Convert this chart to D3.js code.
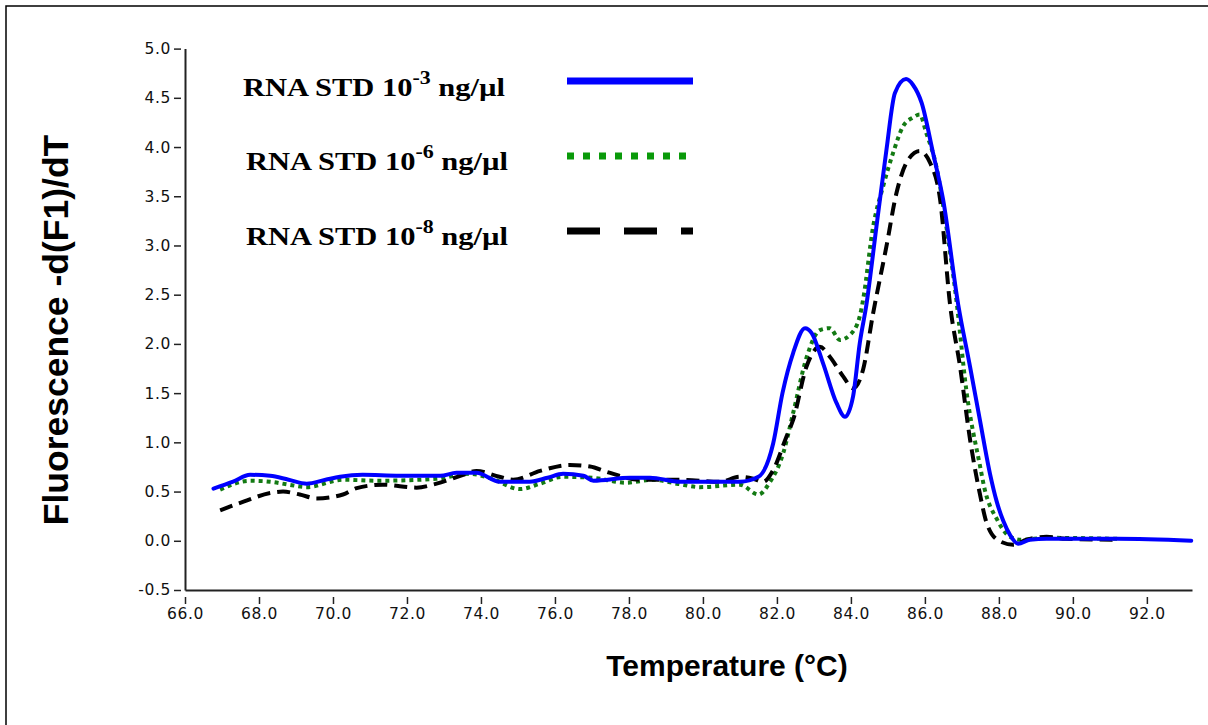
<!DOCTYPE html>
<html>
<head>
<meta charset="utf-8">
<script src="https://cdn.jsdelivr.net/npm/d3@7"></script>
<style>
  body { margin: 0; background: #fff; }
  svg { display: block; }
</style>
</head>
<body>
<div id="chart"></div>
<script>
// Melt curves: temperature (°C) and -d(F1)/dT
const blueT = [66.77, 67.3, 67.76, 68.3, 68.8, 69.29, 69.8, 70.19, 70.8, 71.8, 72.9, 73.34, 73.88, 74.5, 74.87, 75.32, 75.8, 76.22, 76.77, 77.04, 78.03, 78.57, 79.38, 80.8, 81.0, 81.5, 81.9, 82.15, 82.44, 82.76, 82.94, 83.25, 83.61, 83.84, 84.06, 84.24, 84.42, 84.69, 84.96, 85.19, 85.49, 85.68, 85.91, 86.22, 86.49, 86.9, 87.22, 87.49, 87.76, 87.94, 88.12, 88.3, 88.52, 88.84, 89.29, 91.2, 93.2];
const blueY = [0.53, 0.60, 0.67, 0.66, 0.62, 0.58, 0.62, 0.65, 0.67, 0.66, 0.66, 0.69, 0.69, 0.60, 0.60, 0.60, 0.64, 0.68, 0.66, 0.61, 0.64, 0.64, 0.60, 0.60, 0.60, 0.65, 0.99, 1.50, 1.91, 2.16, 2.11, 1.80, 1.40, 1.26, 1.47, 2.01, 2.40, 3.19, 3.97, 4.55, 4.69, 4.63, 4.45, 3.94, 3.47, 2.40, 1.77, 1.22, 0.68, 0.40, 0.20, 0.06, -0.03, 0.01, 0.02, 0.02, 0.0];

const greenT = [66.95, 67.76, 68.3, 68.8, 69.29, 70.27, 71.2, 72.8, 73.7, 74.3, 75.05, 75.6, 76.2, 77.0, 77.93, 78.65, 79.3, 79.92, 81.0, 81.5, 81.8, 82.17, 82.44, 82.8, 83.16, 83.43, 83.7, 83.97, 84.24, 84.33, 84.6, 84.87, 85.14, 85.41, 85.68, 85.86, 86.04, 86.31, 86.58, 86.85, 87.12, 87.49, 87.6, 87.96, 88.3, 88.6, 89.3, 91.2];
const greenY = [0.52, 0.61, 0.60, 0.57, 0.545, 0.62, 0.61, 0.63, 0.68, 0.63, 0.525, 0.58, 0.65, 0.64, 0.59, 0.62, 0.58, 0.545, 0.57, 0.47, 0.59, 0.89, 1.30, 1.86, 2.14, 2.16, 2.04, 2.09, 2.28, 2.45, 3.19, 3.60, 3.94, 4.21, 4.30, 4.33, 4.14, 3.80, 3.19, 2.45, 1.53, 0.76, 0.55, 0.21, 0.04, 0.01, 0.03, 0.02];

const blackT = [66.95, 67.6, 68.3, 68.65, 69.1, 69.56, 70.27, 70.64, 71.35, 72.26, 72.8, 73.52, 73.88, 74.5, 74.87, 75.6, 76.4, 76.95, 77.4, 78.3, 79.38, 80.46, 81.0, 81.36, 81.63, 81.9, 82.26, 82.44, 82.8, 83.16, 83.43, 83.79, 84.06, 84.33, 84.6, 84.96, 85.23, 85.5, 85.86, 86.14, 86.41, 86.68, 86.95, 87.22, 87.49, 87.67, 88.0, 88.39, 88.75, 89.29, 89.8, 91.2];
const blackY = [0.31, 0.40, 0.485, 0.50, 0.47, 0.43, 0.47, 0.535, 0.57, 0.54, 0.58, 0.67, 0.71, 0.65, 0.62, 0.71, 0.77, 0.755, 0.70, 0.62, 0.62, 0.60, 0.65, 0.63, 0.60, 0.72, 1.06, 1.23, 1.77, 1.97, 1.87, 1.67, 1.55, 1.74, 2.31, 2.99, 3.53, 3.84, 3.96, 3.84, 3.47, 2.40, 1.77, 1.03, 0.47, 0.18, 0.0, -0.04, 0.01, 0.04, 0.02, 0.01];

const seriesNames = ["-3", "-6", "-8"];
const xTicks = [66, 68, 70, 72, 74, 76, 78, 80, 82, 84, 86, 88, 90, 92];
const yTicks = [-0.5, 0, 0.5, 1, 1.5, 2, 2.5, 3, 3.5, 4, 4.5, 5];

const width = 1208, height = 725;
const margin = { left: 185, right: 16, top: 48.6, bottom: 135 };

const svg = d3.select("#chart").append("svg")
    .attr("width", width)
    .attr("height", height);

// frame (only top and left edges show in the picture)
svg.append("path")
    .attr("d", `M6,${height} L6,6 L${width},6`)
    .attr("fill", "none")
    .attr("stroke", "#000")
    .attr("stroke-width", 1.5);

const x = d3.scaleLinear().domain([66, 93.22]).range([margin.left, width - margin.right]);
const y = d3.scaleLinear().domain([-0.5, 5]).range([height - margin.bottom, margin.top]);

const fmt = d => d.toFixed(1);

// axes
const xAxis = svg.append("g")
    .attr("transform", `translate(0,${y(-0.5)})`)
    .call(d3.axisBottom(x).tickValues(xTicks).tickFormat(fmt)
        .tickSizeInner(0).tickSizeOuter(0).tickPadding(18));
xAxis.select(".domain").attr("stroke-width", 2).attr("stroke", "#222");
xAxis.selectAll(".tick").append("line")
    .attr("y1", 7).attr("y2", 14)
    .attr("stroke", "#222").attr("stroke-width", 1.5);

const yAxis = svg.append("g")
    .attr("transform", `translate(${margin.left},0)`)
    .call(d3.axisLeft(y).tickValues(yTicks).tickFormat(fmt)
        .tickSizeInner(0).tickSizeOuter(0).tickPadding(14));
yAxis.select(".domain").attr("stroke-width", 2).attr("stroke", "#222");
yAxis.selectAll(".tick").append("line")
    .attr("x1", -11).attr("x2", -4)
    .attr("stroke", "#222").attr("stroke-width", 1.5);

svg.selectAll("g").attr("font-size", null).attr("font-family", null);
svg.selectAll(".tick text")
    .attr("fill", "#111")
    .attr("font-family", "'DejaVu Sans', sans-serif")
    .attr("font-size", 15.5)
    .attr("letter-spacing", "0.6px");

// axis titles
svg.append("text")
    .attr("x", 727)
    .attr("y", 676)
    .attr("text-anchor", "middle")
    .style("font-family", "'Liberation Sans', Arial, sans-serif")
    .style("font-weight", "bold")
    .style("font-size", "30px")
    .text("Temperature (°C)");

svg.append("text")
    .attr("transform", "translate(68,330) rotate(-90)")
    .attr("text-anchor", "middle")
    .style("font-family", "'Liberation Sans', Arial, sans-serif")
    .style("font-weight", "bold")
    .style("font-size", "35.5px")
    .text("Fluorescence -d(F1)/dT");

// curves
const line = d3.line()
    .x(d => x(d[0]))
    .y(d => y(d[1]))
    .curve(d3.curveMonotoneX);

const series = [
    { t: greenT, v: greenY, color: "#137a13", dash: "4,4", cap: "butt" },
    { t: blackT, v: blackY, color: "#000", dash: "13,7", cap: "butt" },
    { t: blueT, v: blueY, color: "#0000ff", dash: null, cap: "round" }
];

series.forEach(s => {
    svg.append("path")
        .datum(d3.zip(s.t, s.v))
        .attr("d", line)
        .attr("fill", "none")
        .attr("stroke", s.color)
        .attr("stroke-width", 4)
        .attr("stroke-linejoin", "round")
        .attr("stroke-linecap", s.cap)
        .attr("stroke-dasharray", s.dash);
});

// legend
const legend = [
    { exp: seriesNames[0], tx: 243, ty: 96, ly: 81, color: "#0000ff", dash: null, x2: 693 },
    { exp: seriesNames[1], tx: 246, ty: 170, ly: 156, color: "#0a9a0a", dash: "7,9", x2: 690 },
    { exp: seriesNames[2], tx: 246, ty: 245, ly: 231, color: "#000", dash: "33,24", x2: 693 }
];

legend.forEach(l => {
    const t = svg.append("text")
        .attr("transform", `translate(${l.tx},${l.ty}) scale(1.22,1)`)
        .style("font-family", "'Liberation Serif', 'Times New Roman', serif")
        .style("font-weight", "bold")
        .style("font-size", "25px");
    t.append("tspan").text("RNA STD 10");
    t.append("tspan").attr("dy", -12).style("font-size", "18px").text(l.exp);
    t.append("tspan").attr("dy", 12).text(" ng/µl");

    svg.append("line")
        .attr("x1", 567).attr("x2", l.x2)
        .attr("y1", l.ly).attr("y2", l.ly)
        .attr("stroke", l.color)
        .attr("stroke-width", 7)
        .attr("stroke-dasharray", l.dash);
});
</script>
</body>
</html>
